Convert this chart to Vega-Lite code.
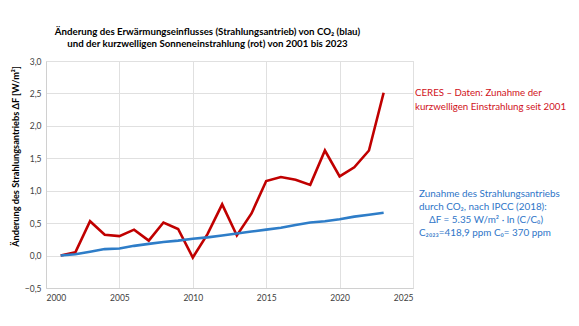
{
  "$schema": "https://vega.github.io/schema/vega-lite/v6.json",
  "width": 367,
  "height": 227,
  "autosize": {"type": "none"},
  "padding": {"left": 46, "top": 61, "right": 166, "bottom": 38},
  "background": "white",
  "title": {
    "text": ["Änderung des Erwärmungseinflusses (Strahlungsantrieb) von CO₂ (blau)", "und der kurzwelligen Sonneneinstrahlung (rot) von 2001 bis 2023"],
    "anchor": "middle",
    "dx": -22,
    "offset": 8,
    "font": "Lato",
    "fontSize": 9.7,
    "fontWeight": "bold",
    "color": "#000000",
    "lineHeight": 12
  },
  "config": {
    "view": {"stroke": "#d9d9d9"},
    "axis": {
      "labelFont": "Lato",
      "labelFontSize": 8.5,
      "labelColor": "#404040",
      "gridColor": "#e0e0e0",
      "domainColor": "#d0d0d0",
      "ticks": false,
      "labelPadding": 5,
      "labelOverlap": false
    }
  },
  "datasets": {
    "series": [
      {"year": 2001, "series": "CERES", "value": 0.0},
      {"year": 2002, "series": "CERES", "value": 0.05},
      {"year": 2003, "series": "CERES", "value": 0.53},
      {"year": 2004, "series": "CERES", "value": 0.32},
      {"year": 2005, "series": "CERES", "value": 0.30},
      {"year": 2006, "series": "CERES", "value": 0.40},
      {"year": 2007, "series": "CERES", "value": 0.23},
      {"year": 2008, "series": "CERES", "value": 0.51},
      {"year": 2009, "series": "CERES", "value": 0.41},
      {"year": 2010, "series": "CERES", "value": -0.03},
      {"year": 2011, "series": "CERES", "value": 0.33},
      {"year": 2012, "series": "CERES", "value": 0.79},
      {"year": 2013, "series": "CERES", "value": 0.31},
      {"year": 2014, "series": "CERES", "value": 0.65},
      {"year": 2015, "series": "CERES", "value": 1.15},
      {"year": 2016, "series": "CERES", "value": 1.21},
      {"year": 2017, "series": "CERES", "value": 1.17},
      {"year": 2018, "series": "CERES", "value": 1.09},
      {"year": 2019, "series": "CERES", "value": 1.62},
      {"year": 2020, "series": "CERES", "value": 1.22},
      {"year": 2021, "series": "CERES", "value": 1.36},
      {"year": 2022, "series": "CERES", "value": 1.62},
      {"year": 2023, "series": "CERES", "value": 2.51},
      {"year": 2001, "series": "CO2", "value": 0.0},
      {"year": 2002, "series": "CO2", "value": 0.02},
      {"year": 2003, "series": "CO2", "value": 0.06},
      {"year": 2004, "series": "CO2", "value": 0.10},
      {"year": 2005, "series": "CO2", "value": 0.11},
      {"year": 2006, "series": "CO2", "value": 0.15},
      {"year": 2007, "series": "CO2", "value": 0.18},
      {"year": 2008, "series": "CO2", "value": 0.21},
      {"year": 2009, "series": "CO2", "value": 0.23},
      {"year": 2010, "series": "CO2", "value": 0.26},
      {"year": 2011, "series": "CO2", "value": 0.28},
      {"year": 2012, "series": "CO2", "value": 0.31},
      {"year": 2013, "series": "CO2", "value": 0.34},
      {"year": 2014, "series": "CO2", "value": 0.37},
      {"year": 2015, "series": "CO2", "value": 0.40},
      {"year": 2016, "series": "CO2", "value": 0.43},
      {"year": 2017, "series": "CO2", "value": 0.47},
      {"year": 2018, "series": "CO2", "value": 0.51},
      {"year": 2019, "series": "CO2", "value": 0.53},
      {"year": 2020, "series": "CO2", "value": 0.56},
      {"year": 2021, "series": "CO2", "value": 0.60},
      {"year": 2022, "series": "CO2", "value": 0.63},
      {"year": 2023, "series": "CO2", "value": 0.66}
    ],
    "ceresNote": [
      {"label": "CERES – Daten: Zunahme der\nkurzwelligen Einstrahlung seit 2001"}
    ],
    "co2Head": [
      {"label": "Zunahme des Strahlungsantriebs\ndurch CO₂, nach IPCC (2018):"}
    ],
    "co2Formula": [
      {"label": "ΔF = 5.35 W/m² · ln (C/C₀)"}
    ],
    "co2Conc": [
      {"label": "C₂₀₂₃=418,9 ppm C₀= 370 ppm"}
    ]
  },
  "layer": [
    {
      "data": {"name": "series"},
      "mark": {"type": "line", "strokeWidth": 2.6, "strokeJoin": "miter"},
      "encoding": {
        "x": {
          "field": "year", "type": "quantitative",
          "scale": {"domain": [2000, 2025], "nice": false, "zero": false},
          "axis": {"values": [2000, 2005, 2010, 2015, 2020, 2025], "tickCount": 10, "format": "d", "title": null}
        },
        "y": {
          "field": "value", "type": "quantitative",
          "scale": {"domain": [-0.5, 3.0], "nice": false},
          "axis": {
            "values": [-0.5, 0, 0.5, 1, 1.5, 2, 2.5, 3],
            "tickCount": 10,
            "labelExpr": "replace(format(datum.value, '.1f'), '.', ',')",
            "title": "Änderung des Strahlungsantriebs ΔF  [W/m²]",
            "titleFont": "Lato",
            "titleFontSize": 9.2,
            "titleFontWeight": "bold",
            "titleColor": "#000000",
            "titleAngle": -90,
            "titleX": -26,
            "titleY": 95,
            "titleAlign": "center",
            "titleBaseline": "bottom"
          }
        },
        "color": {
          "field": "series", "type": "nominal",
          "scale": {"domain": ["CERES", "CO2"], "range": ["#c00000", "#2e7dc8"]},
          "legend": null
        }
      }
    },
    {
      "data": {"name": "ceresNote"},
      "mark": {"type": "text", "align": "left", "baseline": "top", "font": "Lato", "fontSize": 9.7, "clip": false, "dx": 2, "lineHeight": 14, "lineBreak": "\n", "color": "#d01020"},
      "encoding": {
        "x": {"datum": 2025},
        "y": {"datum": 2.59},
        "text": {"field": "label"}
      }
    },
    {
      "data": {"name": "co2Head"},
      "mark": {"type": "text", "align": "left", "baseline": "top", "font": "Lato", "fontSize": 9.9, "clip": false, "dx": 6, "lineHeight": 13, "lineBreak": "\n", "color": "#2e75c8"},
      "encoding": {
        "x": {"datum": 2025},
        "y": {"datum": 1.03},
        "text": {"field": "label"}
      }
    },
    {
      "data": {"name": "co2Formula"},
      "mark": {"type": "text", "align": "left", "baseline": "top", "font": "Lato", "fontSize": 9.9, "clip": false, "dx": 16, "dy": 26, "color": "#2e75c8"},
      "encoding": {
        "x": {"datum": 2025},
        "y": {"datum": 1.03},
        "text": {"field": "label"}
      }
    },
    {
      "data": {"name": "co2Conc"},
      "mark": {"type": "text", "align": "left", "baseline": "top", "font": "Lato", "fontSize": 9.9, "clip": false, "dx": 6, "dy": 39, "color": "#2e75c8"},
      "encoding": {
        "x": {"datum": 2025},
        "y": {"datum": 1.03},
        "text": {"field": "label"}
      }
    },
    {
      "mark": {"type": "rule", "color": "#2e75c8", "strokeWidth": 0.8, "clip": false},
      "encoding": {
        "x": {"datum": 2030.5},
        "x2": {"datum": 2034.1},
        "y": {"datum": 0.72}
      }
    }
  ]
}
